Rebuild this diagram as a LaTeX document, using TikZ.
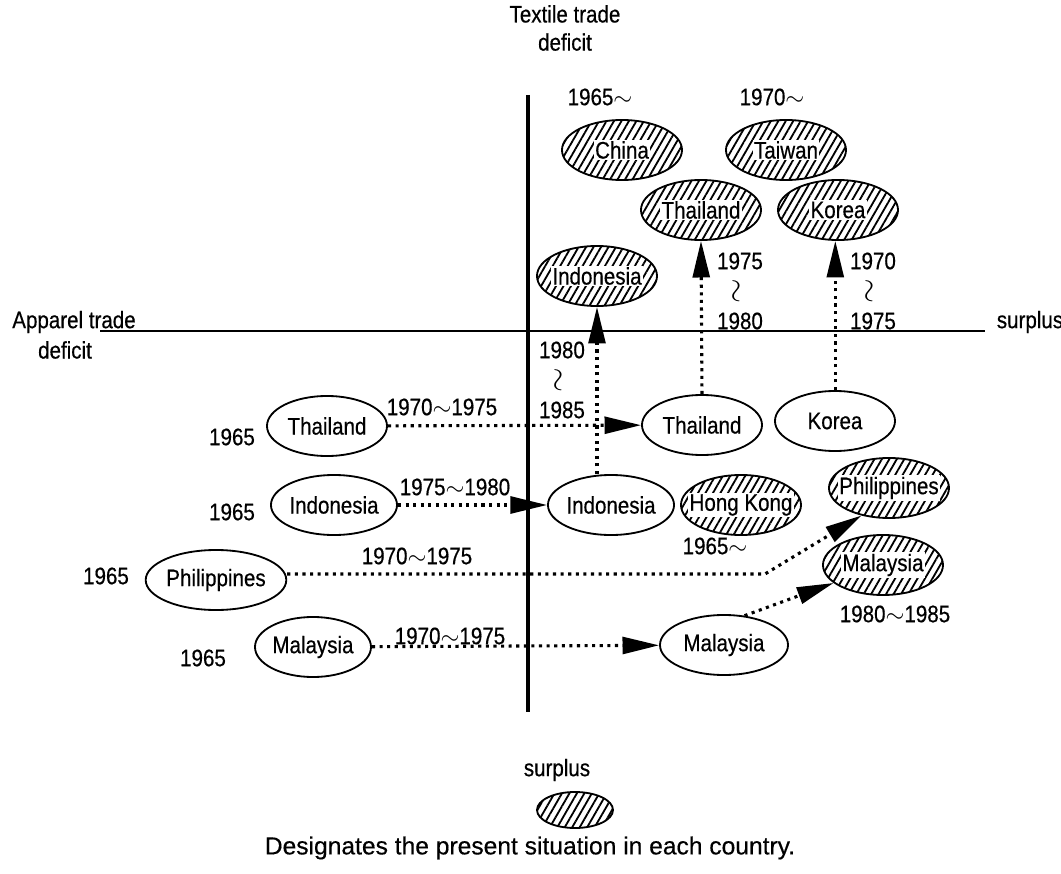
\documentclass[tikz,border=0pt]{standalone}
\usepackage{fontspec}
\setmainfont{Liberation Sans}[FakeStretch=0.86,FakeBold=0.5]
\newfontfamily\captionfont{Liberation Sans}[FakeBold=0.4]
\usepackage{tikz}
\usetikzlibrary{arrows.meta,patterns.meta,shapes.geometric}

% Looks that repeat
\tikzset{
  country/.style={draw, ellipse, line width=1.3pt, minimum width=3cm, minimum height=1.5cm, inner sep=0pt},
  present/.style={country, pattern={Lines[angle=60,distance=4.6pt,line width=1.3pt]}},
  namebox/.style={fill=white, inner sep=1pt},
  move/.style={line width=2.2pt, dash pattern=on 2.2pt off 3.2pt,
    -{Triangle[length=26pt,width=12pt]}},
  wavy/.style={inner sep=0pt},
}
\newcommand{\wave}{\scalebox{1.3}{\rotatebox{90}{$\sim$}}}

\begin{document}
\begin{tikzpicture}[x=0.025cm, y=-0.025cm, font=\fontsize{17}{20}\selectfont]

  \useasboundingbox (0,0) rectangle (1061,874);

  %% The two axes
  \draw [line width=2.2pt] (528,95) -- (528,712);
  \draw [line width=0.8pt] (100,331) -- (985,331);

  \node (textile) at (565,28) [align=center] {Textile trade\\deficit};
  \node (apparel) at (74,322) {Apparel trade};
  \node (appdef)  at (65,350) {deficit};
  \node (surpr)   at (1030,322) {surplus};
  \node (surpb)   at (557,770) {surplus};

  %% Present situation (hatched)
  \node [present, label={[namebox]center:China}]       (china)    at (622,150) {};
  \node [present, label={[namebox]center:Taiwan}]      (taiwan)   at (786,150) {};
  \node [present, label={[namebox]center:Thailand}]    (thainow)  at (701,210) {};
  \node [present, label={[namebox]center:Korea}]       (koreanow) at (838,210) {};
  \node [present, label={[namebox]center:Indonesia}]   (indonow)  at (597,276) {};
  \node [present, label={[namebox]center:Hong Kong}]   (hongkong) at (741,505) {};
  \node [present, label={[namebox]center:Philippines}] (philnow)  at (889,488) {};
  \node [present, label={[namebox]center:Malaysia}]    (malaynow) at (883,565) {};

  \node (since65) at (600,97) {1965$\sim$};
  \node (since70) at (772,97) {1970$\sim$};
  \node (sincehk) at (715,546) {1965$\sim$};

  %% Starting points in 1965
  \node (y65a) at (232,437) {1965};
  \node (y65b) at (232,512) {1965};
  \node (y65c) at (106,576) {1965};
  \node (y65d) at (203,658) {1965};

  \node [country] (thai65)  at (327,426) {Thailand};
  \node [country] (indo65)  at (334,505) {Indonesia};
  \node [country, minimum width=2.85cm] (phil65) at (216,580) {Philippines};
  \node [country, minimum width=2.9cm] (malay65) at (313,647) {Malaysia};

  %% Intermediate stages
  \node [country] (thai80)  at (702,425) {Thailand};
  \node [country] (korea80) at (835,421) {Korea};
  \node [country] (indo80)  at (611,505) {Indonesia};
  \node [country, minimum width=3.2cm] (malay80) at (724,645) {Malaysia};

  %% Moves between stages
  \draw [move] (thai65) -- (thai80);
  \draw [move] (indo65) -- (indo80);
  \draw [move] (malay65) -- (malay80);
  \coordinate (philbend) at (765,574);
  \draw [move] (phil65.east |- philbend) -- (philbend) -- (philnow.225);
  \draw [move] (malay80.55) -- (malaynow.200);
  \draw [move] (thai80.north) -- (thainow.south);
  \draw [move] (korea80.north -| koreanow.265) -- (koreanow.265);
  \draw [move] (indo80.north -| indonow.south) -- (indonow.south);

  \node (p1) at (442,407) {1970$\sim$1975};
  \node (p2) at (455,487) {1975$\sim$1980};
  \node (p3) at (417,556) {1970$\sim$1975};
  \node (p4) at (450,636) {1970$\sim$1975};
  \node (p5) at (895,614) {1980$\sim$1985};

  % stacked periods beside the upward moves
  \node (p6a) at (562,350) {1980};
  \node [wavy] (p6b) at (560,380) {\wave};
  \node (p6c) at (562,410) {1985};
  \node (p7a) at (740,261) {1975};
  \node [wavy] (p7b) at (738,291) {\wave};
  \node (p7c) at (740,321) {1980};
  \node (p8a) at (873,261) {1970};
  \node [wavy] (p8b) at (871,291) {\wave};
  \node (p8c) at (873,321) {1975};

  %% Legend
  \node [present, minimum width=1.9cm, minimum height=0.9cm] (legend) at (575,810) {};
  \node (caption) at (530,848) {\captionfont\fontsize{17.5}{20}\selectfont Designates the present situation in each country.};

\end{tikzpicture}
\end{document}
